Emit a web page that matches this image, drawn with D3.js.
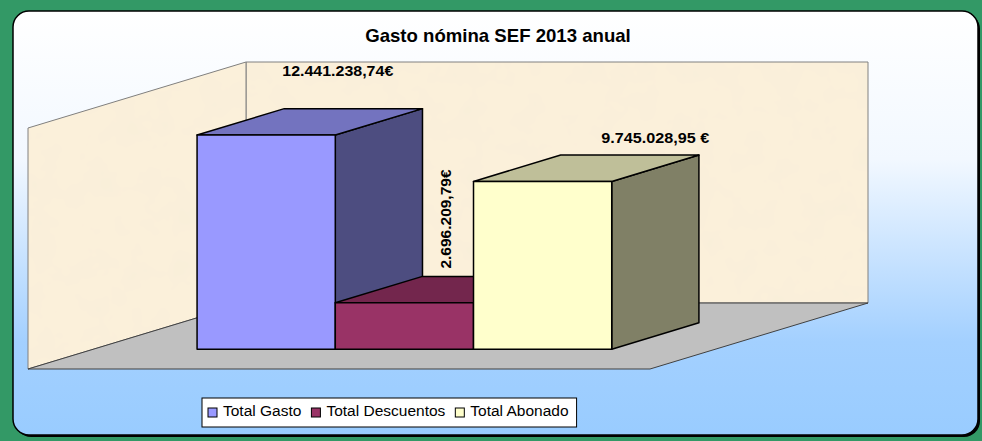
<!DOCTYPE html>
<meta charset="utf-8">
<style>
  body { margin: 0; }
  text { font-family: Arial, "Liberation Sans", sans-serif; }
</style>

<!-- Load d3.js -->
<script src="https://d3js.org/d3.v7.min.js"></script>

<div id="my_dataviz"></div>

<script>
    // data
    var series = ["Total Gasto", "Total Descuentos", "Total Abonado"];
    var values = [12441238.74, 2696209.79, 9745028.95];
    var valueLabels = ["12.441.238,74€", "2.696.209,79€", "9.745.028,95 €"];
    var yDomain = [0, 14000000];

    // colours: front, top, side
    var front = ["#9999FF", "#993366", "#FFFFCC"];
    var top_ = ["#7373BF", "#73264D", "#BFBF99"];
    var side = ["#4D4D80", "#4D1A33", "#808066"];

    var W = 982, H = 441;

    var svg = d3.select("#my_dataviz")
      .append("svg")
        .attr("width", W)
        .attr("height", H);

    var defs = svg.append("defs");

    var grad = defs.append("linearGradient")
        .attr("id", "bg").attr("x1", 0).attr("y1", 0).attr("x2", 0).attr("y2", 1);
    grad.append("stop").attr("offset", "0%").attr("stop-color", "#FFFFFF");
    grad.append("stop").attr("offset", "35%").attr("stop-color", "#F2F8FF");
    grad.append("stop").attr("offset", "78%").attr("stop-color", "#A3D0FF");
    grad.append("stop").attr("offset", "100%").attr("stop-color", "#99CCFF");

    // parchment-ish texture for the walls
    var f = defs.append("filter").attr("id", "paper")
        .attr("x", 0).attr("y", 0).attr("width", "100%").attr("height", "100%");
    f.append("feTurbulence").attr("type", "fractalNoise").attr("baseFrequency", 0.035)
        .attr("numOctaves", 3).attr("seed", 7).attr("result", "n");
    f.append("feColorMatrix").attr("in", "n").attr("type", "matrix")
        .attr("values", "0 0 0 0 0.90  0 0 0 0 0.84  0 0 0 0 0.68  0 0 0 0.6 -0.24")
        .attr("result", "c");
    f.append("feComposite").attr("in", "c").attr("in2", "SourceGraphic").attr("operator", "atop");

    // page background + rounded chart area
    svg.append("rect").attr("width", W).attr("height", H).attr("fill", "#339966");
    svg.append("rect")
        .attr("x", 15).attr("y", 13).attr("width", 965).attr("height", 424)
        .attr("rx", 16).attr("fill", "#000");
    svg.append("rect")
        .attr("x", 13).attr("y", 11).attr("width", 965).attr("height", 424)
        .attr("rx", 16).attr("fill", "url(#bg)")
        .attr("stroke", "#000").attr("stroke-width", 1.5);

    // title
    svg.append("text")
        .attr("x", 498)
        .attr("y", 42)
        .attr("text-anchor", "middle")
        .style("font-size", "18.6px")
        .style("font-weight", "bold")
        .text("Gasto nómina SEF 2013 anual");

    // 3d projection
    var origin = {x: 28, y: 369};
    var depth = {dx: 218, dy: -66};
    var plotW = 622, plotH = 241;

    var x = d3.scaleBand()
      .domain(series)
      .range([0, plotW])
      .paddingInner(0)
      .paddingOuter(0.75);

    var y = d3.scaleLinear()
      .domain(yDomain)
      .range([0, plotH]);

    function P(u, v, zf) {
      return [origin.x + u + zf * depth.dx, origin.y + zf * depth.dy - y(v)];
    }
    function poly(pts) { return pts.map(function(p) { return p.join(","); }).join(" "); }

    var yTop = yDomain[1];

    // walls
    var backWall = [P(0, 0, 1), P(plotW, 0, 1), P(plotW, yTop, 1), P(0, yTop, 1)];
    var leftWall = [P(0, 0, 0), P(0, 0, 1), P(0, yTop, 1), P(0, yTop, 0)];
    [backWall, leftWall].forEach(function(w) {
      svg.append("polygon").attr("points", poly(w)).attr("fill", "#FBF0DA");
      svg.append("polygon").attr("points", poly(w)).attr("fill", "#FBF0DA")
        .attr("filter", "url(#paper)");
      svg.append("polygon").attr("points", poly(w)).attr("fill", "none")
        .attr("stroke", "#808080").attr("stroke-width", 1);
    });

    // floor
    svg.append("polygon")
      .attr("points", poly([P(0, 0, 0), P(plotW, 0, 0), P(plotW, 0, 1), P(0, 0, 1)]))
      .attr("fill", "#C0C0C0")
      .attr("stroke", "#404040")
      .attr("stroke-width", 1);

    // bars
    var z0 = 0.3, z1 = 0.7;
    series.forEach(function(s, i) {
      var u0 = x(s), u1 = x(s) + x.bandwidth(), v = values[i];
      var g = svg.append("g")
        .attr("stroke", "#000")
        .attr("stroke-width", 1.5)
        .attr("stroke-linejoin", "round");
      g.append("polygon")
        .attr("points", poly([P(u1, 0, z0), P(u1, 0, z1), P(u1, v, z1), P(u1, v, z0)]))
        .attr("fill", side[i]);
      g.append("polygon")
        .attr("points", poly([P(u0, v, z0), P(u1, v, z0), P(u1, v, z1), P(u0, v, z1)]))
        .attr("fill", top_[i]);
      g.append("polygon")
        .attr("points", poly([P(u0, 0, z0), P(u1, 0, z0), P(u1, v, z0), P(u0, v, z0)]))
        .attr("fill", front[i]);
    });

    // value labels
    function topCenter(i) {
      return P(x(series[i]) + x.bandwidth() / 2, values[i], 0.5);
    }
    var c0 = topCenter(0);
    svg.append("text")
      .attr("x", c0[0] + 28).attr("y", c0[1] - 46)
      .attr("text-anchor", "middle")
      .attr("textLength", 111).attr("lengthAdjust", "spacingAndGlyphs")
      .style("font-size", "14.5px").style("font-weight", "bold")
      .text(valueLabels[0]);

    var c1 = topCenter(1);
    svg.append("text")
      .attr("transform", "translate(" + (c1[0] + 3) + "," + (c1[1] - 21) + ")rotate(-90)")
      .attr("text-anchor", "start")
      .style("font-size", "15.5px").style("font-weight", "bold")
      .text(valueLabels[1]);

    var c2 = topCenter(2);
    svg.append("text")
      .attr("x", c2[0] + 69).attr("y", c2[1] - 25)
      .attr("text-anchor", "middle")
      .attr("textLength", 108).attr("lengthAdjust", "spacingAndGlyphs")
      .style("font-size", "14.5px").style("font-weight", "bold")
      .text(valueLabels[2]);

    // legend
    var legend = svg.append("g").attr("transform", "translate(202,398)");
    var box = legend.append("rect")
      .attr("width", 384).attr("height", 29)
      .attr("fill", "#fff").attr("stroke", "#000").attr("stroke-width", 1);
    var lx = 6;
    series.forEach(function(s, i) {
      legend.append("rect")
        .attr("x", lx).attr("y", 10).attr("width", 9).attr("height", 9)
        .attr("fill", front[i]).attr("stroke", "#000").attr("stroke-width", 1);
      var t = legend.append("text")
        .attr("x", lx + 15).attr("y", 18)
        .style("font-size", "15.5px")
        .text(s);
      lx += 15 + t.node().getComputedTextLength() + 10;
    });
    box.attr("width", lx - 2);
</script>
